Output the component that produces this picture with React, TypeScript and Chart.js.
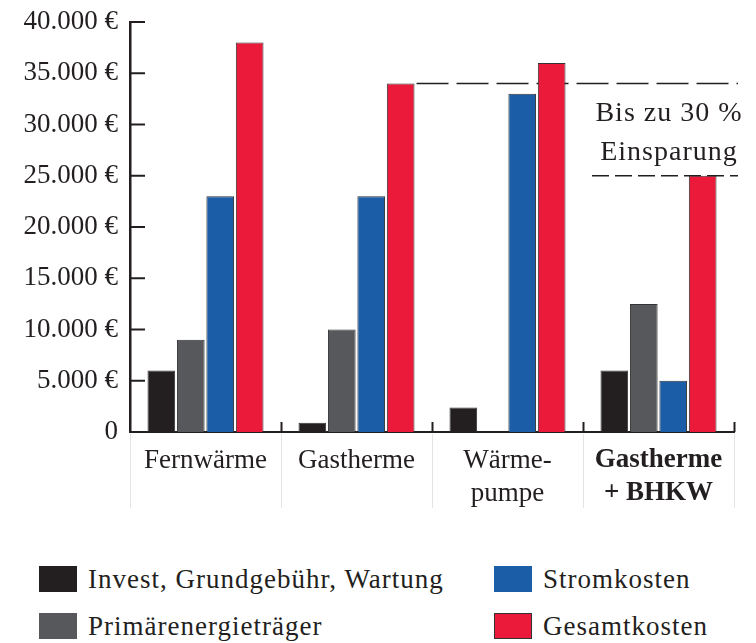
import React, { useEffect, useRef } from "react";
import { Chart, registerables } from "chart.js";
Chart.register(...registerables);

const categories: string[][] = [["Fernwärme"], ["Gastherme"], ["Wärme-", "pumpe"], ["Gastherme", "+ BHKW"]];
const investValues = [6000, 900, 2400, 6000];
const primaerValues: (number | null)[] = [9000, 10000, null, 12500];
const stromValues = [23000, 23000, 33000, 5000];
const gesamtValues = [38000, 34000, 36000, 25000];
const seriesNames = ["Invest, Grundgebühr, Wartung", "Primärenergieträger", "Stromkosten", "Gesamtkosten"];
const seriesColors = ["#231f20", "#56585b", "#1c5da8", "#eb1a3a"];
const yTickLabels = ["0", "5.000 €", "10.000 €", "15.000 €", "20.000 €", "25.000 €", "30.000 €", "35.000 €", "40.000 €"];
const annotationLines = ["Bis zu 30 %", "Einsparung"];

const FONT = "'Liberation Serif', 'Times New Roman', serif";
const INK = "#231f20";

const decorPlugin = {
  id: "decor",
  beforeDatasetsDraw(chart: any) {
    const { ctx, chartArea, scales } = chart;
    const x = scales.x, y = scales.y;
    ctx.save();
    ctx.strokeStyle = INK;
    ctx.lineWidth = 1.5;
    const redMeta = chart.getDatasetMeta(3);
    const gBar = redMeta.data[1];
    const yUp = y.getPixelForValue(gesamtValues[1]);
    ctx.setLineDash([32, 8]);
    ctx.beginPath();
    ctx.moveTo(gBar.x + gBar.width / 2 + 2, yUp);
    ctx.lineTo(chartArea.right + 4, yUp);
    ctx.stroke();
    const yLow = y.getPixelForValue(gesamtValues[3]);
    const bnd = (x.getPixelForValue(2) + x.getPixelForValue(3)) / 2;
    ctx.setLineDash([17, 6]);
    ctx.beginPath();
    ctx.moveTo(bnd + 9, yLow);
    ctx.lineTo(chartArea.right + 4, yLow);
    ctx.stroke();
    ctx.restore();
  },
  afterDraw(chart: any) {
    const { ctx, chartArea, scales } = chart;
    const x = scales.x, y = scales.y;
    ctx.save();
    const n = categories.length;
    const step = x.getPixelForValue(1) - x.getPixelForValue(0);
    for (let i = 0; i <= n; i++) {
      const px = Math.round(x.getPixelForValue(0) - step / 2 + i * step) + 0.5;
      ctx.strokeStyle = "#e4e4e4";
      ctx.lineWidth = 1;
      ctx.beginPath();
      ctx.moveTo(px, chartArea.bottom + 2);
      ctx.lineTo(px, chartArea.bottom + 76);
      ctx.stroke();
      if (i > 0) {
        ctx.strokeStyle = INK;
        ctx.lineWidth = 2;
        ctx.beginPath();
        ctx.moveTo(px, chartArea.bottom);
        ctx.lineTo(px, chartArea.bottom - 10);
        ctx.stroke();
      }
    }
    ctx.strokeStyle = INK;
    ctx.lineWidth = 2;
    for (let i = 1; i < yTickLabels.length; i++) {
      const py = y.getPixelForValue(i * 5000);
      ctx.beginPath();
      ctx.moveTo(chartArea.left, py);
      ctx.lineTo(chartArea.left + 15, py);
      ctx.stroke();
    }
    const yUp = y.getPixelForValue(gesamtValues[1]);
    const yLow = y.getPixelForValue(gesamtValues[3]);
    ctx.fillStyle = INK;
    ctx.font = `28px ${FONT}`;
    (ctx as any).letterSpacing = "1px";
    ctx.textAlign = "center";
    ctx.textBaseline = "alphabetic";
    ctx.fillText(annotationLines[0], 669, yUp + 37);
    ctx.fillText(annotationLines[1], 669, yLow - 16);
    (ctx as any).letterSpacing = "0px";
    ctx.restore();
  },
};

export default function App() {
  const ref = useRef<HTMLCanvasElement>(null);
  useEffect(() => {
    document.body.style.margin = "0";
    const c = ref.current!;
    const values = [investValues, primaerValues, stromValues, gesamtValues];
    const chart = new Chart(c, {
      type: "bar",
      data: {
        labels: categories,
        datasets: values.map((v, i) => ({
          label: seriesNames[i],
          data: v,
          backgroundColor: seriesColors[i],
          borderColor: "#333333",
          borderWidth: 1,
          categoryPercentage: 0.78,
          barPercentage: 0.94,
        })),
      },
      options: {
        animation: false,
        responsive: false,
        maintainAspectRatio: false,
        layout: { padding: { top: 22, right: 22, left: 0, bottom: 0 } },
        plugins: { legend: { display: false }, tooltip: { enabled: false } },
        scales: {
          x: {
            grid: { display: false, drawTicks: false },
            border: { display: true, color: INK, width: 2 },
            ticks: {
              color: INK,
              padding: 12,
              maxRotation: 0,
              autoSkip: false,
              font: (ctx: any) => ({ family: FONT, size: 27, weight: ctx.index === 3 ? "bold" : "normal", lineHeight: 1.22 }),
            },
            afterFit: (s: any) => { s.height = 98; s.paddingLeft = 0; s.paddingRight = 0; },
          },
          y: {
            min: 0,
            max: 40000,
            grid: { display: false, drawTicks: false },
            border: { display: true, color: INK, width: 2.5 },
            ticks: {
              stepSize: 5000,
              color: INK,
              padding: 12,
              font: { family: FONT, size: 27 },
              callback: (_v: any, i: number) => yTickLabels[i],
            },
            afterFit: (s: any) => { s.width = 130; s.paddingTop = 0; s.paddingBottom = 0; },
          },
        },
      },
      plugins: [decorPlugin],
    });
    return () => chart.destroy();
  }, []);

  const legendOrder = [0, 2, 1, 3];
  return (
    <div style={{ position: "relative", width: 756, height: 643 }}>
      <canvas ref={ref} width={756} height={530} style={{ display: "block" }} />
      {legendOrder.map((si, k) => {
        const col = k % 2, row = Math.floor(k / 2);
        const left = col === 0 ? 39 : 494;
        const cy = row === 0 ? 579 : 626;
        return (
          <div key={si} style={{ position: "absolute", left, top: cy - 13, height: 26, display: "flex", alignItems: "center" }}>
            <div style={{ width: 38, height: 26, background: seriesColors[si], boxSizing: "border-box", border: si === 3 ? "1px solid #333" : "none" }} />
            <span style={{ marginLeft: 11, fontFamily: FONT, fontSize: 27, letterSpacing: "1px", color: INK, whiteSpace: "nowrap", lineHeight: "26px" }}>{seriesNames[si]}</span>
          </div>
        );
      })}
    </div>
  );
}
